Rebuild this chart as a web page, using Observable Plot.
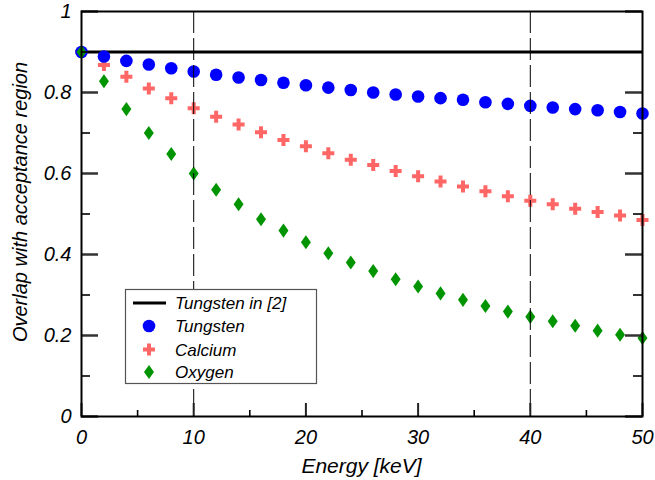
<!DOCTYPE html>
<html><head><meta charset="utf-8">
<script src="https://cdn.jsdelivr.net/npm/d3@7"></script>
<script src="https://cdn.jsdelivr.net/npm/@observablehq/plot@0.6"></script>
<style>body{margin:0;background:#fff}#chart{width:655px;height:480px}</style>
</head><body><div id="chart"></div>
<script>
const energy = [0,2,4,6,8,10,12,14,16,18,20,22,24,26,28,30,32,34,36,38,40,42,44,46,48,50];
const tungsten = [0.9,0.889,0.878,0.869,0.860,0.852,0.844,0.837,0.831,0.824,0.818,0.812,0.806,0.800,0.795,0.790,0.786,0.782,0.776,0.772,0.767,0.763,0.759,0.756,0.752,0.748];
const calcium = [0.9,0.868,0.839,0.810,0.786,0.761,0.740,0.721,0.702,0.683,0.667,0.650,0.634,0.621,0.606,0.593,0.580,0.568,0.556,0.544,0.533,0.524,0.513,0.505,0.496,0.485];
const oxygen = [0.9,0.828,0.759,0.700,0.648,0.600,0.560,0.524,0.487,0.459,0.430,0.403,0.380,0.359,0.339,0.321,0.304,0.288,0.273,0.259,0.246,0.235,0.224,0.212,0.202,0.194];
const referenceLevel = [0.9];
const markerEnergies = [10, 40];
const xMajor = [0,10,20,30,40,50];
const xMinor = [5,15,25,35,45];
const yMajor = [0,0.2,0.4,0.6,0.8,1];
const yMinor = [0.1,0.3,0.5,0.7,0.9];
const legendLabels = ["Tungsten in [2]","Tungsten","Calcium","Oxygen"];
const xTitle = "Energy [keV]";
const yTitle = "Overlap with acceptance region";

const W = 655, H = 480, mL = 81, mR = 13, mT = 11, mB = 64;
const pw = W - mL - mR, ph = H - mT - mB;
const font = "'Liberation Sans', Arial, Helvetica, sans-serif";
const BLUE = "#0000ff", RED = "#ff6666", GREEN = "#009400";

const wideDiamond = {draw(ctx, size){
  const r = Math.sqrt(size / Math.PI); const h = r*1.17, w = r*0.83;
  ctx.moveTo(0,-h); ctx.lineTo(w,0); ctx.lineTo(0,h); ctx.lineTo(-w,0); ctx.closePath();
}};
const table = arr => energy.map((e,i) => ({energy: e, value: arr[i]}));
const fmt = d => String(+d.toFixed(1));

const chart = Plot.plot({
  width: W, height: H, marginLeft: mL, marginRight: mR, marginTop: mT, marginBottom: mB,
  style: {fontFamily: font, fontStyle: "italic", background: "#fff", color: "#000"},
  x: {domain: [0, 50]},
  y: {domain: [0, 1]},
  marks: [
    Plot.axisX({ticks: xMajor, tickSize: 0, tickPadding: 13, fontSize: 20, tickFormat: fmt, label: null}),
    Plot.axisY({ticks: yMajor, tickSize: 0, tickPadding: 10, fontSize: 20, tickFormat: fmt, label: null}),
    Plot.ruleY(referenceLevel, {stroke: "#000", strokeWidth: 3}),
    Plot.dot(table(calcium), {x: "energy", y: "value", symbol: "cross", r: 5.05, fill: RED, stroke: "none"}),
    Plot.dot(table(tungsten), {x: "energy", y: "value", symbol: "circle", r: 6.3, fill: BLUE, stroke: "none"}),
    Plot.dot(table(oxygen), {x: "energy", y: "value", symbol: wideDiamond, r: 6, fill: GREEN, stroke: "none"}),
    Plot.ruleX(markerEnergies, {stroke: "#000", strokeWidth: 1, strokeDasharray: "22,5"}),
    Plot.tickY(yMajor, {y: d => d, insetRight: pw - 17, stroke: "#333", strokeWidth: 2.5}),
    Plot.tickY(yMajor, {y: d => d, insetLeft: pw - 17, stroke: "#333", strokeWidth: 2.5}),
    Plot.tickY(yMinor, {y: d => d, insetRight: pw - 9, stroke: "#000", strokeWidth: 1.6}),
    Plot.tickY(yMinor, {y: d => d, insetLeft: pw - 9, stroke: "#000", strokeWidth: 1.6}),
    Plot.tickX(xMajor, {x: d => d, insetTop: ph - 13, stroke: "#222", strokeWidth: 2}),
    Plot.tickX(xMinor, {x: d => d, insetTop: ph - 6, stroke: "#000", strokeWidth: 1.6}),
    Plot.frame({stroke: "#000", strokeWidth: 2})
  ]
});
document.getElementById("chart").appendChild(chart);

const svg = d3.select(chart);
const sx = v => chart.scale("x").apply(v);
const xL = sx(0), xR = sx(50);

svg.append("text").attr("x", (xL + xR)/2).attr("y", 473).attr("text-anchor", "middle")
  .attr("font-size", 21).attr("font-style", "italic").attr("font-family", font).attr("fill", "#000").text(xTitle);
svg.append("text").attr("transform", "translate(27,202) rotate(-90)").attr("text-anchor", "middle")
  .attr("font-size", 20).attr("font-style", "italic").attr("font-family", font).attr("fill", "#000").text(yTitle);

const lg = svg.append("g").attr("font-family", font).attr("font-style", "italic").attr("font-size", 17).attr("text-anchor", "start");
lg.append("rect").attr("x", 125.5).attr("y", 289.5).attr("width", 191).attr("height", 94)
  .attr("fill", "#fff").attr("stroke", "#555").attr("stroke-width", 1.2);
const rows = [303, 326, 349.5, 372];
lg.append("line").attr("x1", 133).attr("x2", 166).attr("y1", rows[0]).attr("y2", rows[0]).attr("stroke", "#000").attr("stroke-width", 3);
const syms = [null, [d3.symbolCircle, Math.PI*6.3*6.3, BLUE], [d3.symbolCross, 80, RED], [wideDiamond, Math.PI*36, GREEN]];
syms.forEach((s, i) => {
  if (s) lg.append("path").attr("transform", `translate(149,${rows[i]})`).attr("d", d3.symbol(s[0], s[1])()).attr("fill", s[2]);
  lg.append("text").attr("x", 175).attr("y", rows[i]).attr("dy", "0.36em").attr("text-anchor", "start").attr("fill", "#000").text(legendLabels[i]);
});
</script></body></html>
